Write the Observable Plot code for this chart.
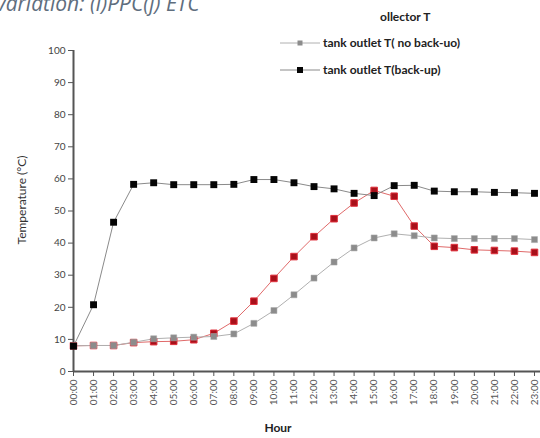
<!DOCTYPE html>
<html>
<head>
<meta charset="utf-8">
<script src="https://cdn.jsdelivr.net/npm/d3@7"></script>
<script src="https://cdn.jsdelivr.net/npm/@observablehq/plot@0.6"></script>
<style>
  html, body { margin: 0; padding: 0; background: #fff; }
  #chart { position: relative; width: 540px; height: 438px; overflow: hidden; }
</style>
</head>
<body>
<div id="chart"></div>
<script>
const hours = ["00:00","01:00","02:00","03:00","04:00","05:00","06:00","07:00","08:00","09:00","10:00","11:00",
               "12:00","13:00","14:00","15:00","16:00","17:00","18:00","19:00","20:00","21:00","22:00","23:00"];
const yTicks = [0,10,20,30,40,50,60,70,80,90,100];
const collectorT = [8.0, 8.1, 8.1, 9.0, 9.3, 9.4, 9.9, 11.9, 15.7, 21.9, 29.0, 35.8, 42.0, 47.6, 52.5, 56.4, 54.6, 45.3, 39.0, 38.6, 37.9, 37.7, 37.5, 37.1];
const noBackup   = [8.0, 8.1, 8.1, 9.1, 10.2, 10.5, 10.7, 10.9, 11.7, 15.0, 19.0, 23.9, 29.1, 34.1, 38.5, 41.6, 42.9, 42.3, 41.6, 41.4, 41.4, 41.4, 41.4, 41.1];
const backup     = [7.9, 20.8, 46.5, 58.3, 58.8, 58.2, 58.2, 58.2, 58.3, 59.8, 59.8, 58.8, 57.6, 56.9, 55.5, 54.8, 57.9, 58.0, 56.2, 56.0, 56.0, 55.8, 55.7, 55.5];
const seriesNames = ["ollector T", "tank outlet T( no back-uo)", "tank outlet T(back-up)"];

const rows = (vals) => vals.map((v, i) => ({hour: i, value: v}));
const red = rows(collectorT), gray = rows(noBackup), black = rows(backup);

const font = "Lato, 'Open Sans', sans-serif";
const svg = Plot.plot({
  width: 540, height: 438,
  marginLeft: 73, marginRight: 0, marginTop: 50, marginBottom: 67,
  style: {fontFamily: font, background: "transparent", overflow: "visible"},
  x: {domain: [0, 23.3]},
  y: {domain: [0, 100]},
  marks: [
    Plot.axisY({ticks: yTicks, tickSize: 5, tickPadding: 3, fontSize: 10, fill: "#444", stroke: "#555", label: null}),
    Plot.axisX({ticks: d3.range(hours.length), tickFormat: i => hours[i], tickRotate: -90, tickSize: 5, tickPadding: 3, fontSize: 10, fill: "#555", stroke: "#555", label: null}),
    Plot.ruleY([0], {stroke: "#555", strokeWidth: 2}),
    Plot.ruleX([0], {stroke: "#555", strokeWidth: 2}),
    Plot.line(red, {x: "hour", y: "value", stroke: "#e06a6a", strokeWidth: 1}),
    Plot.line(gray, {x: "hour", y: "value", stroke: "#b0b0b0", strokeWidth: 1}),
    Plot.line(black, {x: "hour", y: "value", stroke: "#8a8a8a", strokeWidth: 1}),
    Plot.dot(red, {x: "hour", y: "value", symbol: "square", r: 3.7, fill: "#a8101a", stroke: "#e0303c", strokeWidth: 1}),
    Plot.dot(gray, {x: "hour", y: "value", symbol: "square", r: 3.4, fill: "#8c8c8c", stroke: "#a8a8a8", strokeWidth: 0.5}),
    Plot.dot(black, {x: "hour", y: "value", symbol: "square", r: 3.9, fill: "#050505"})
  ]
});
document.getElementById("chart").appendChild(svg);

const s = d3.select(svg);
// cut-off title at the top (as in the reference)
s.append("text").attr("x", -4).attr("y", 11).attr("text-anchor", "start")
  .attr("font-family", "'Open Sans', sans-serif").attr("font-style", "italic").attr("font-size", 21)
  .attr("fill", "#5f6e7e").text("variation: (i)PPC(j) ETC");
// axis titles
s.append("text").attr("transform", "translate(26,200) rotate(-90)").attr("text-anchor", "middle")
  .attr("font-family", font).attr("font-size", 12).attr("fill", "#333").text("Temperature (°C)");
s.append("text").attr("x", 278).attr("y", 432).attr("text-anchor", "middle")
  .attr("font-family", font).attr("font-size", 12).attr("font-weight", 700).attr("fill", "#222").text("Hour");
// legend
const lg = s.append("g").attr("font-family", font).attr("font-size", 12).attr("font-weight", 700)
  .attr("fill", "#222").attr("text-anchor", "start");
lg.append("text").attr("x", 380).attr("y", 21).attr("text-anchor", "start").text(seriesNames[0]);
const entries = [
  {name: seriesNames[1], y: 43, fill: "#8c8c8c", line: "#b0b0b0", size: 5},
  {name: seriesNames[2], y: 70, fill: "#050505", line: "#8a8a8a", size: 6}
];
for (const e of entries) {
  lg.append("line").attr("x1", 280).attr("x2", 320).attr("y1", e.y).attr("y2", e.y).attr("stroke", e.line).attr("stroke-width", 1);
  lg.append("rect").attr("x", 300 - e.size / 2).attr("y", e.y - e.size / 2).attr("width", e.size).attr("height", e.size).attr("fill", e.fill);
  lg.append("text").attr("x", 323).attr("y", e.y + 4).attr("text-anchor", "start").text(e.name);
}
</script>
</body>
</html>
